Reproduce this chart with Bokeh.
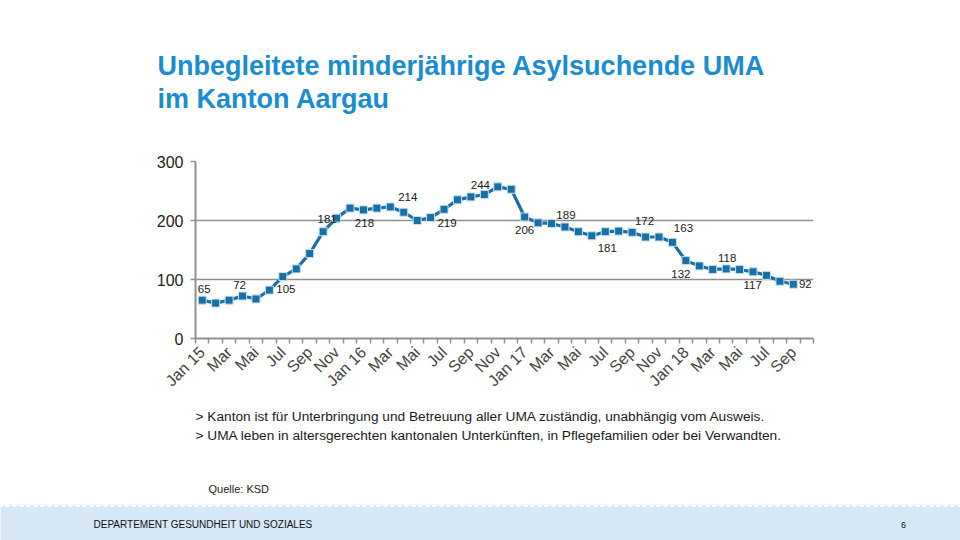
import numpy as np
from bokeh.plotting import figure
from bokeh.models import ColumnDataSource, FixedTicker, Range1d
from bokeh.layouts import column
from bokeh.embed import file_html
from bokeh.resources import INLINE
from bokeh.core.properties import value

# ---------------- data ----------------
values = [65, 60, 65, 72, 67, 82, 105, 118, 144, 181,
          204, 221, 218, 221, 223, 214, 200, 205, 219, 235,
          240, 244, 257, 253, 206, 196, 195, 189, 181, 174,
          181, 182, 180, 172, 172, 163, 132, 123, 117, 118,
          117, 113, 107, 97, 92]
n_categories = 46  # Jan 15 .. Okt 18
tick_labels = ["Jan 15", "Mar", "Mai", "Jul", "Sep", "Nov",
               "Jan 16", "Mar", "Mai", "Jul", "Sep", "Nov",
               "Jan 17", "Mar", "Mai", "Jul", "Sep", "Nov",
               "Jan 18", "Mar", "Mai", "Jul", "Sep"]
y_ticks = [0, 100, 200, 300]
# indices of points that carry a data label
label_idx = [0, 3, 6, 9, 12, 15, 18, 21, 24, 27, 30, 33, 35, 36, 39, 40, 44]
title_lines = ["Unbegleitete minderjährige Asylsuchende UMA", "im Kanton Aargau"]
bullets = [">  Kanton ist für Unterbringung und Betreuung aller UMA zuständig, unabhängig vom Ausweis.",
           ">  UMA leben in altersgerechten kantonalen Unterkünften, in Pflegefamilien oder bei Verwandten."]
source_text = "Quelle: KSD"
footer_text = "DEPARTEMENT GESUNDHEIT UND SOZIALES"
page_no = "6"

# ---------------- styles ----------------
FONT = "Liberation Sans"
LINE_COL = "#1b6fa5"
GRID_COL = "#8f8f8f"
TITLE_COL = "#1a8cd0"
BAND_COL = "#d6e8f6"

W = 960
H_HEAD, H_MAIN, H_TEXT, H_FOOT = 150, 250, 104, 36


def blank(h, bg="white"):
    f = figure(width=W, height=h, output_backend="svg", toolbar_location=None,
               x_range=Range1d(0, W), y_range=Range1d(0, h),
               x_axis_location=None, y_axis_location=None, min_border=0,
               frame_align=False)
    f.outline_line_color = None
    f.background_fill_color = bg
    f.border_fill_color = bg
    f.xgrid.grid_line_color = None
    f.ygrid.grid_line_color = None
    return f


# ---------------- header ----------------
head = blank(H_HEAD)
head.text([157, 157], [85, 52], text=title_lines, text_font=value(FONT),
          text_font_size="27px", text_font_style="bold", text_color=TITLE_COL,
          text_baseline="middle", text_align="left")

# ---------------- chart ----------------
x = list(range(len(values)))
src = ColumnDataSource(dict(x=x, y=values))

p = figure(width=W, height=H_MAIN, output_backend="svg", toolbar_location=None,
           x_range=Range1d(-0.5, n_categories - 0.5), y_range=Range1d(0, 300),
           min_border_left=195, min_border_right=147, min_border_top=11,
           min_border_bottom=H_MAIN - 11 - 177, frame_align=False)
p.outline_line_color = None

xa = p.xaxis[0]
xa.ticker = FixedTicker(ticks=list(range(0, 2 * len(tick_labels), 2)),
                        minor_ticks=[i - 0.5 for i in range(n_categories + 1)])
xa.major_label_overrides = {2 * i: t for i, t in enumerate(tick_labels)}
xa.major_label_orientation = np.pi / 4
xa.major_tick_line_color = None
xa.major_tick_out = 0
xa.minor_tick_out = 5
xa.minor_tick_in = 0
xa.minor_tick_line_color = GRID_COL
xa.minor_tick_line_width = 1.5
xa.axis_line_color = GRID_COL
xa.axis_line_width = 2
xa.major_label_text_font = FONT
xa.major_label_text_font_size = "16px"
xa.major_label_text_color = "#444444"
xa.major_label_standoff = 6

ya = p.yaxis[0]
ya.ticker = FixedTicker(ticks=y_ticks)
ya.major_tick_out = 5
ya.major_tick_in = 0
ya.major_tick_line_color = GRID_COL
ya.major_tick_line_width = 1.5
ya.minor_tick_line_color = None
ya.axis_line_color = GRID_COL
ya.axis_line_width = 2
ya.major_label_text_font = FONT
ya.major_label_text_font_size = "16px"
ya.major_label_text_color = "#222222"
ya.major_label_standoff = 7

p.xgrid.grid_line_color = None
p.ygrid.grid_line_color = GRID_COL
p.ygrid.grid_line_width = 1.5
p.ygrid.ticker = FixedTicker(ticks=y_ticks[1:])

p.line("x", "y", source=src, line_color=LINE_COL, line_width=3.2)
p.scatter("x", "y", source=src, marker="square", size=8, fill_color=LINE_COL,
          line_color="#bfe2f4", line_width=1)

dx = [2, -3, 3, 4, 1, 4, 3, -4, 0, 1, 2, -1, 11, -5, 1, 13, 12]
dy = [-11, -11, 12, -13, 13, -15, 14, -10, 13, -12, 16, -16, -14, 13, -11, 16, 0]
lab_src = ColumnDataSource(dict(
    x=[x[i] for i in label_idx], y=[values[i] for i in label_idx],
    t=[str(values[i]) for i in label_idx], dx=dx, dy=dy))
p.text("x", "y", text="t", source=lab_src, x_offset="dx", y_offset="dy",
       text_align="center", text_baseline="middle", text_font=value(FONT),
       text_font_size="11.5px", text_color="#1a1a1a")

# ---------------- text block ----------------
txt = blank(H_TEXT)
txt.text([195, 195], [88, 69], text=bullets, text_font=value(FONT),
         text_font_size="13.7px", text_color="#1a1a1a",
         text_baseline="middle", text_align="left")
txt.text([208], [16], text=[source_text], text_font=value(FONT),
         text_font_size="11px", text_color="#1a1a1a",
         text_baseline="middle", text_align="left")

# ---------------- footer ----------------
foot = blank(H_FOOT, BAND_COL)
scx = np.arange(0, W + 8, 7)
foot.scatter(scx, np.full(len(scx), H_FOOT + 0.5), size=6, fill_color="white",
             line_color=None)
foot.text([93], [16], text=[footer_text], text_font=value(FONT), text_font_size="10px",
          text_color="#111111", text_baseline="middle", text_align="left")
foot.text([903], [16], text=[page_no], text_font=value(FONT), text_font_size="9px",
          text_color="#111111", text_baseline="middle", text_align="center")

layout = column(head, p, txt, foot, spacing=0)
open("out.html", "w").write(file_html(layout, INLINE))
